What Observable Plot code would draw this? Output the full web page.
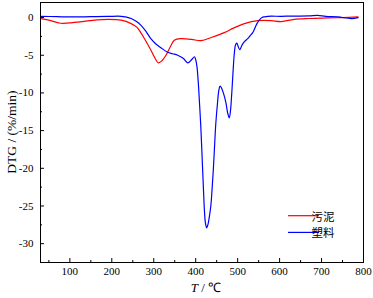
<!DOCTYPE html>
<html><head><meta charset="utf-8">
<script src="https://cdn.jsdelivr.net/npm/d3@7"></script>
<script src="https://cdn.jsdelivr.net/npm/@observablehq/plot@0.6"></script>
<style>body{margin:0;background:#fff}</style>
</head><body><div id="chart"></div>
<script>
const seriesNames = ["污泥", "塑料"];
const seriesColors = ["#ff0000", "#0000ff"];

const sludgeT = [30, 50, 78, 110, 150, 191, 222, 246, 260, 269, 280, 293, 303, 311, 320, 329, 341, 349, 365, 390, 413, 437, 468, 490, 516, 548, 580, 604, 635, 670, 715, 750, 787];
const sludgeV = [-0.15, -0.35, -0.75, -0.65, -0.4, -0.25, -0.35, -0.8, -1.3, -2.0, -3.0, -4.3, -5.4, -6.0, -5.7, -5.0, -3.7, -3.0, -2.8, -2.9, -3.05, -2.65, -2.0, -1.4, -0.8, -0.4, -0.4, -0.53, -0.23, -0.12, -0.05, 0.0, 0.08];

const plasticT = [30, 70, 110, 150, 190, 222, 235, 246, 258, 269, 281, 293, 305, 317, 333, 345, 357, 370, 381, 390, 397, 400, 403, 406, 409, 412, 416, 419, 421, 423, 426, 429, 432, 436, 439, 442, 445, 448, 452, 455, 458, 462, 467, 472, 476, 480, 483, 486, 489, 492, 495, 498, 501, 505, 510, 516, 524, 530, 536, 541, 546, 552, 558, 564, 572, 604, 635, 670, 691, 710, 739, 771, 787];
const plasticV = [0.17, 0.12, 0.08, 0.12, 0.15, 0.17, 0.05, -0.13, -0.5, -1.0, -1.8, -2.8, -3.5, -4.0, -4.6, -4.8, -5.0, -5.4, -6.0, -5.6, -5.2, -5.6, -6.5, -8.5, -11.3, -14.3, -19.5, -23.5, -25.8, -27.2, -27.9, -27.5, -26.6, -25.0, -22.8, -20.2, -17.0, -14.0, -11.3, -9.7, -9.1, -9.4, -10.2, -11.3, -12.6, -13.3, -12.3, -10.0, -7.2, -4.8, -3.6, -3.4, -3.8, -4.25, -3.7, -3.2, -2.8, -2.4, -2.0, -1.4, -0.8, -0.3, 0.0, 0.1, 0.17, 0.17, 0.2, 0.22, 0.3, 0.15, 0.08, -0.13, 0.0];

const xTicks = [100, 200, 300, 400, 500, 600, 700, 800];
const xMinor = [50, 150, 250, 350, 450, 550, 650, 750];
const yTicks = [0, -5, -10, -15, -20, -25, -30];
const yMinor = [-2.5, -7.5, -12.5, -17.5, -22.5, -27.5, -32.5];
const xLabelVar = "T";
const xLabelUnit = " / ℃";
const yLabel = "DTG / (%/min)";

const rows = [
  ...sludgeT.map((t, i) => ({T: t, v: sludgeV[i], s: seriesNames[0]})),
  ...plasticT.map((t, i) => ({T: t, v: plasticV[i], s: seriesNames[1]}))
];

const svg = Plot.plot({
  width: 373, height: 298,
  marginLeft: 40, marginRight: 10, marginTop: 2, marginBottom: 36,
  style: {fontFamily: "'Liberation Serif', 'Times New Roman', serif", fontSize: "11px", color: "#000", background: "#fff"},
  x: {domain: [30, 800]},
  y: {domain: [-32.5, 2]},
  color: {domain: seriesNames, range: seriesColors},
  marks: [
    Plot.axisX({ticks: xTicks, tickSize: -4, tickPadding: 9, tickFormat: d => String(d), label: null}),
    Plot.axisX({ticks: xMinor, tickSize: -2, tickFormat: () => "", label: null}),
    Plot.axisY({ticks: yTicks, tickSize: -4, tickPadding: 11, tickFormat: d => String(d), label: null}),
    Plot.axisY({ticks: yMinor, tickSize: -2, tickFormat: () => "", label: null}),
    Plot.line(rows, {x: "T", y: "v", stroke: "s", z: "s", strokeWidth: 1.2, curve: "catmull-rom"}),
    Plot.frame({stroke: "#000", strokeWidth: 1})
  ]
});

const s = d3.select(svg);
// y label
s.append("text")
  .attr("transform", "translate(11,132) rotate(-90)")
  .attr("text-anchor", "middle").attr("dominant-baseline", "central")
  .style("font-family", "'Liberation Serif', serif").style("font-size", "13.5px")
  .attr("fill", "#000")
  .text(yLabel);
// x label
const xl = s.append("text")
  .attr("x", 206).attr("y", 292)
  .attr("text-anchor", "middle")
  .style("font-family", "'Liberation Serif', serif").style("font-size", "13px")
  .attr("fill", "#000");
xl.append("tspan").style("font-style", "italic").text(xLabelVar);
xl.append("tspan").text(xLabelUnit);
// legend
const lg = s.append("g");
seriesNames.forEach((name, i) => {
  const y = 215.7 + i * 16.7;
  lg.append("line").attr("x1", 288).attr("x2", 319).attr("y1", y).attr("y2", y)
    .attr("stroke", seriesColors[i]).attr("stroke-width", 1.2);
  lg.append("text").attr("x", 323).attr("y", y).attr("dominant-baseline", "central")
    .style("font-family", "'Noto Sans CJK SC', sans-serif").style("font-size", "11.5px")
    .attr("fill", "#000").text(name);
});

document.getElementById("chart").appendChild(svg);
</script>
</body></html>
